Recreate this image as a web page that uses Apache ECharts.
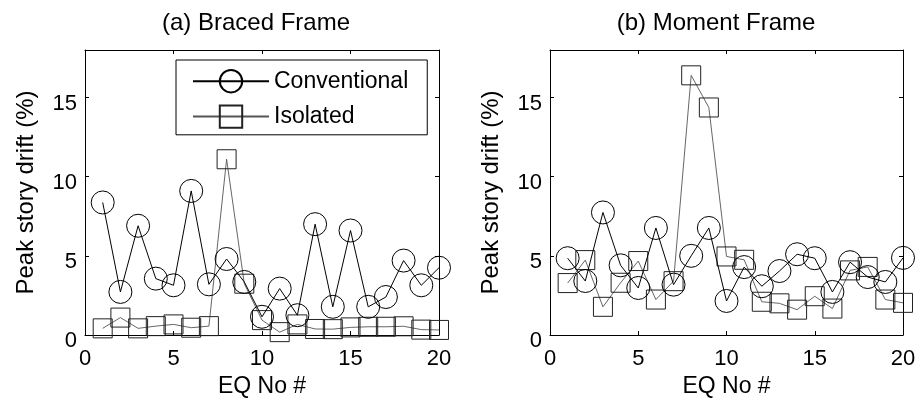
<!DOCTYPE html>
<html><head><meta charset="utf-8">
<script src="https://cdn.jsdelivr.net/npm/echarts@6/dist/echarts.min.js"></script>
<style>html,body{margin:0;padding:0;background:#fff}#c{width:919px;height:403px}</style>
</head><body><div id="c"></div>
<script>
const eqNo = [1,2,3,4,5,6,7,8,9,10,11,12,13,14,15,16,17,18,19,20];
const xTicks = [0, 5, 10, 15, 20];
const yTicks = [0, 5, 10, 15];
const bracedConventional = [8.37,2.72,6.9,3.56,3.14,9.1,3.2,4.8,3.35,1.15,2.93,1.25,7.0,1.78,6.6,1.78,2.4,4.7,3.14,4.25];
const bracedIsolated = [0.42,1.1,0.42,0.56,0.67,0.46,0.56,11.1,3.24,0.94,0.18,0.67,0.38,0.37,0.48,0.52,0.52,0.55,0.34,0.32];
const momentConventional = [4.85,3.41,7.74,4.4,2.97,6.76,3.18,5.0,6.76,2.15,4.29,3.08,4.04,5.1,4.85,2.72,4.6,3.66,3.35,4.87];
const momentIsolated = [3.28,4.73,1.78,3.3,4.67,2.24,3.4,16.4,14.37,4.96,4.75,2.1,2.0,1.6,2.45,1.67,4.08,4.3,2.24,2.03];
const titles = ['(a) Braced Frame', '(b) Moment Frame'];
const seriesNames = ['Conventional', 'Isolated'];
const xName = 'EQ No #';
const yName = 'Peak story drift (%)';

const FONT = 'Liberation Sans, Arial, sans-serif';
const xMin = xTicks[0], xMax = xTicks[xTicks.length-1], xStep = xTicks[1]-xTicks[0];
const yMin = yTicks[0], yStep = yTicks[1]-yTicks[0], yMax = 18;

const pairs = arr => arr.map((v, i) => [eqNo[i], v]);
const grids = [
  {left: 85, top: 50, width: 354, height: 285},
  {left: 550, top: 50, width: 353, height: 285}
];
const axLine = {show: true, onZero: false, lineStyle: {color: '#000', width: 1}};
const axTick = {show: true, inside: true, length: 4, lineStyle: {color: '#000', width: 1}};
const xAxes = [], yAxes = [];
grids.forEach((g, gi) => {
  xAxes.push({
    type: 'value', gridIndex: gi, position: 'bottom', min: xMin, max: xMax, interval: xStep,
    axisLine: axLine, axisTick: axTick, splitLine: {show: false},
    axisLabel: {fontSize: 22, color: '#000', margin: 13, fontFamily: FONT},
    name: xName, nameLocation: 'middle', nameGap: 36,
    nameTextStyle: {fontSize: 23, color: '#000', fontFamily: FONT}
  });
  xAxes.push({
    type: 'value', gridIndex: gi, position: 'top', min: xMin, max: xMax, interval: xStep,
    axisLine: axLine, axisTick: axTick, splitLine: {show: false}, axisLabel: {show: false}
  });
  yAxes.push({
    type: 'value', gridIndex: gi, position: 'left', min: yMin, max: yMax, interval: yStep,
    axisLine: axLine, axisTick: axTick, splitLine: {show: false},
    axisLabel: {fontSize: 22, color: '#000', margin: 8, fontFamily: FONT,
      verticalAlign: 'top', lineHeight: 12,
      formatter: v => (yTicks.indexOf(v) >= 0 ? String(v) : '')},
    name: yName, nameLocation: 'middle', nameGap: 47, nameRotate: 90,
    nameTextStyle: {fontSize: 24, color: '#000', fontFamily: FONT}
  });
  yAxes.push({
    type: 'value', gridIndex: gi, position: 'right', min: yMin, max: yMax, interval: yStep,
    axisLine: axLine, axisTick: axTick, splitLine: {show: false}, axisLabel: {show: false}
  });
});

function convSeries(gi, data) {
  return {
    name: seriesNames[0], type: 'line', xAxisIndex: gi*2, yAxisIndex: gi*2, data: pairs(data),
    symbol: 'circle', symbolSize: 23,
    lineStyle: {color: '#000', width: 1},
    itemStyle: {color: 'rgba(255,255,255,0)', borderColor: '#000', borderWidth: 1},
    emphasis: {disabled: true}, z: 3
  };
}
function isoSeries(gi, data) {
  return {
    name: seriesNames[1], type: 'line', xAxisIndex: gi*2, yAxisIndex: gi*2, data: pairs(data),
    symbol: 'rect', symbolSize: 19,
    lineStyle: {color: '#555', width: 0.9},
    itemStyle: {color: 'rgba(255,255,255,0)', borderColor: '#222', borderWidth: 1},
    emphasis: {disabled: true}, z: 2
  };
}

const chart = echarts.init(document.getElementById('c'), null, {renderer: 'canvas'});
chart.setOption({
  animation: false,
  backgroundColor: '#fff',
  title: [
    {text: titles[0], left: 256, top: 11, textAlign: 'center', padding: 0,
     textStyle: {fontSize: 24, fontWeight: 'normal', color: '#000', fontFamily: FONT}},
    {text: titles[1], left: 716, top: 11, textAlign: 'center', padding: 0,
     textStyle: {fontSize: 24, fontWeight: 'normal', color: '#000', fontFamily: FONT}}
  ],
  legend: {
    data: seriesNames, orient: 'vertical', left: 176, top: 60,
    itemWidth: 76, itemHeight: 28, itemGap: 11,
    padding: [9, 19, 6, 16],
    borderColor: '#000', borderWidth: 1, backgroundColor: '#fff',
    textStyle: {fontSize: 23, color: '#000', fontFamily: FONT},
    selectedMode: false
  },
  grid: grids,
  xAxis: xAxes,
  yAxis: yAxes,
  series: [
    convSeries(0, bracedConventional), isoSeries(0, bracedIsolated),
    convSeries(1, momentConventional), isoSeries(1, momentIsolated)
  ]
});
</script>
</body></html>
